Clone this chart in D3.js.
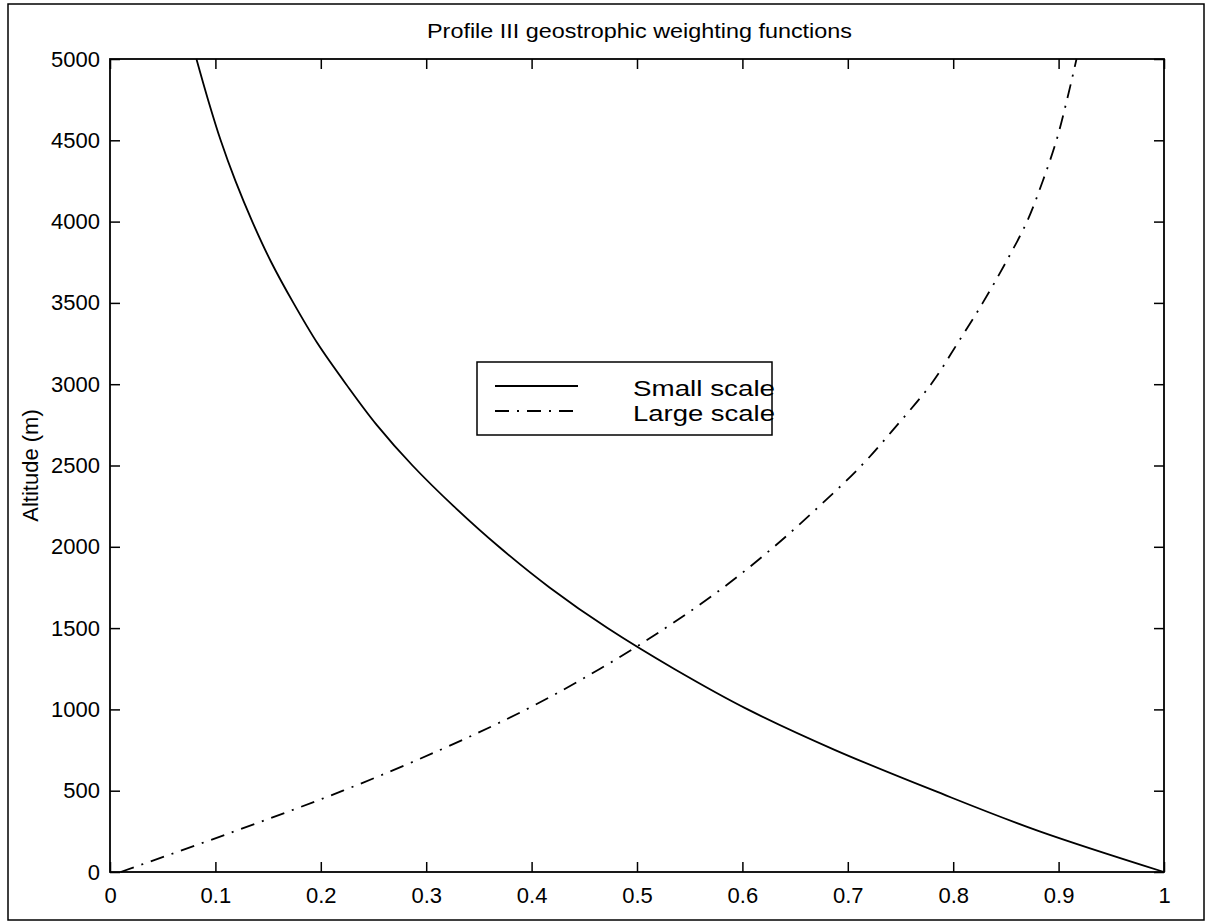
<!DOCTYPE html>
<html lang="en">
<head>
<meta charset="UTF-8" />
<title>Profile III geostrophic weighting functions</title>
<style>
  body { margin: 0; background: #fff; }
  svg text { font-family: "Liberation Sans", Arial, Helvetica, sans-serif; fill: #000; }
</style>
</head>
<body>
<svg width="1209" height="922" id="mainsvg"></svg>
<script src="https://cdn.jsdelivr.net/npm/d3@7"></script>
<script>
// altitudes (m) and weights
const altitude = [0, 250, 500, 750, 1000, 1250, 1500, 1750, 2000, 2250, 2500,
  2750, 3000, 3250, 3500, 3750, 4000, 4250, 4500, 4750, 5000]
const smallScale = [1.000, 0.882, 0.782, 0.688, 0.605, 0.535, 0.472, 0.417, 0.369, 0.326, 0.287,
  0.253, 0.224, 0.197, 0.174, 0.153, 0.135, 0.119, 0.105, 0.093, 0.082]
const largeScale = [0.010, 0.118, 0.221, 0.313, 0.395, 0.465, 0.527, 0.582, 0.630, 0.673, 0.713,
  0.747, 0.779, 0.804, 0.828, 0.850, 0.870, 0.885, 0.898, 0.908, 0.917]
const xTicks = [0, 0.1, 0.2, 0.3, 0.4, 0.5, 0.6, 0.7, 0.8, 0.9, 1]
const yTicks = [0, 500, 1000, 1500, 2000, 2500, 3000, 3500, 4000, 4500, 5000]
const seriesNames = ["Small scale", "Large scale"]

const svg = d3.select("#mainsvg")
const mLeft = 110, mRight = 1164, mTop = 59, mBottom = 872
const dashDot = "14,8,2,8"

const x = d3.scaleLinear().domain([0, 1]).range([mLeft, mRight])
const y = d3.scaleLinear().domain([0, 5000]).range([mBottom, mTop])

// outer frame
svg.append("rect")
  .attr("x", 8).attr("y", 4).attr("width", 1196).attr("height", 916)
  .attr("fill", "none").attr("stroke", "#000").attr("stroke-width", 1.5)

// axes, ticks pointing inward on all four sides
const fmt = (d) => String(d)
const axisStyle = (g) => {
  g.select(".domain").remove()
  g.selectAll(".tick line").attr("stroke", "#000").attr("stroke-width", 1.5)
  g.selectAll("text").attr("font-size", 22).attr("fill", "#000")
}
svg.append("g").attr("transform", `translate(0,${mBottom})`)
  .call(d3.axisBottom(x).tickValues(xTicks).tickFormat(fmt).tickSizeInner(-10).tickPadding(15))
  .call(axisStyle)
svg.append("g").attr("transform", `translate(0,${mTop})`)
  .call(d3.axisTop(x).tickValues(xTicks).tickFormat("").tickSizeInner(-10))
  .call(axisStyle)
svg.append("g").attr("transform", `translate(${mLeft},0)`)
  .call(d3.axisLeft(y).tickValues(yTicks).tickFormat(fmt).tickSizeInner(-10).tickPadding(10))
  .call(axisStyle)
svg.append("g").attr("transform", `translate(${mRight},0)`)
  .call(d3.axisRight(y).tickValues(yTicks).tickFormat("").tickSizeInner(-10))
  .call(axisStyle)

svg.append("rect")
  .attr("x", mLeft).attr("y", mTop).attr("width", mRight - mLeft).attr("height", mBottom - mTop)
  .attr("fill", "none").attr("stroke", "#000").attr("stroke-width", 1.8)

// curves
const line = d3.line().x((d) => x(d[0])).y((d) => y(d[1])).curve(d3.curveMonotoneY)
svg.append("path")
  .datum(altitude.map((a, i) => [smallScale[i], a]))
  .attr("d", line).attr("fill", "none").attr("stroke", "#000").attr("stroke-width", 1.8)
svg.append("path")
  .datum(altitude.map((a, i) => [largeScale[i], a]))
  .attr("d", line).attr("fill", "none").attr("stroke", "#000").attr("stroke-width", 1.8)
  .attr("stroke-dasharray", dashDot)

// title and axis label
svg.append("text").attr("x", 427).attr("y", 38)
  .attr("font-size", 21).attr("textLength", 425).attr("lengthAdjust", "spacingAndGlyphs")
  .text("Profile III geostrophic weighting functions")
svg.append("text")
  .attr("transform", `translate(38,${(mTop + mBottom) / 2}) rotate(-90)`)
  .attr("text-anchor", "middle").attr("font-size", 22)
  .text("Altitude (m)")

// legend
const legend = svg.append("g")
legend.append("rect")
  .attr("x", 477).attr("y", 362).attr("width", 295).attr("height", 73)
  .attr("fill", "#fff").attr("stroke", "#000").attr("stroke-width", 1.5)
seriesNames.forEach((name, i) => {
  const ly = 386 + i * 25
  legend.append("line")
    .attr("x1", 495).attr("x2", 578).attr("y1", ly).attr("y2", ly)
    .attr("stroke", "#000").attr("stroke-width", 1.8)
    .attr("stroke-dasharray", i === 1 ? dashDot : null)
  legend.append("text").attr("x", 633).attr("y", ly + 10)
    .attr("font-size", 22).attr("textLength", 142).attr("lengthAdjust", "spacingAndGlyphs")
    .text(name)
})
</script>
</body>
</html>
